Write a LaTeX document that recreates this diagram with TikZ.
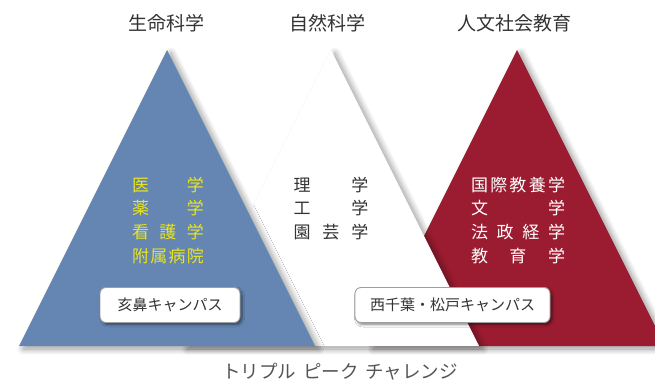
\documentclass[tikz,border=0pt]{standalone}
\usepackage{fontspec}
\setmainfont{Noto Sans CJK JP}
\usetikzlibrary{shadows.blur}
\definecolor{tblue}{HTML}{6586B3}
\definecolor{tred}{HTML}{9B1C30}
\definecolor{tyellow}{HTML}{E8E41E}
\definecolor{tgray}{HTML}{333333}
\definecolor{lgray}{HTML}{555555}
\begin{document}
\begin{tikzpicture}[x=1pt,y=-1pt,
  tri/.style={blur shadow={shadow xshift=4pt, shadow yshift=-3pt, shadow blur radius=6pt, shadow opacity=40, shadow blur steps=12}},
  title/.style={inner sep=0pt, text=tgray, font=\fontsize{19}{19}\selectfont},
  row/.style={inner sep=0pt, font=\fontsize{17}{17}\selectfont},
  campus/.style={draw=gray!75, line width=0.9pt, fill=white, rounded corners=6pt,
    minimum height=35pt, inner sep=0pt, text=tgray, font=\fontsize{15}{15}\selectfont,
    blur shadow={shadow xshift=2pt, shadow yshift=-2pt, shadow blur radius=2.5pt, shadow opacity=50, shadow blur steps=6}},
  bottomtext/.style={inner sep=0pt, text=lgray, font=\fontsize{18.5}{18.5}\selectfont}]
\useasboundingbox (0,0) rectangle (655,383);
\clip (0,0) rectangle (655,383);
% triangles (back to front)
\fill[tred, tri] (517,50) -- (369,346) -- (665,346) -- cycle;
\fill[white, tri] (331,50) -- (183,346) -- (479,346) -- cycle;
\fill[tblue, tri] (167,50) -- (19,346) -- (315,346) -- cycle;
% titles
\node[title] (t1) at (166,23) {生命科学};
\node[title] (t2) at (327,23) {自然科学};
\node[title] (t3) at (514,23) {人文社会教育};
% blue rows
\node[row, text=tyellow] (b1) at (168,185) {\makebox[72pt]{医\hfill 学}};
\node[row, text=tyellow] (b2) at (168,208) {\makebox[72pt]{薬\hfill 学}};
\node[row, text=tyellow] (b3) at (168,232) {\makebox[72pt]{看\hfill 護\hfill 学}};
\node[row, text=tyellow] (b4) at (168,256) {\makebox[72pt]{附\hfill 属\hfill 病\hfill 院}};
% white rows
\node[row, text=tgray] (w1) at (331,185) {\makebox[75pt]{理\hfill 学}};
\node[row, text=tgray] (w2) at (331,208) {\makebox[75pt]{工\hfill 学}};
\node[row, text=tgray] (w3) at (331,232) {\makebox[75pt]{園\hfill 芸\hfill 学}};
% red rows
\node[row, text=white] (r1) at (518,185) {\makebox[94pt]{国\hfill 際\hfill 教\hfill 養\hfill 学}};
\node[row, text=white] (r2) at (518,208) {\makebox[94pt]{文\hfill 学}};
\node[row, text=white] (r3) at (518,232) {\makebox[94pt]{法\hfill 政\hfill 経\hfill 学}};
\node[row, text=white] (r4) at (518,256) {\makebox[94pt]{教\hfill 育\hfill 学}};
% campus boxes
\node[campus, minimum width=140pt] (c1) at (170,305) {亥鼻キャンパス};
\node[campus, minimum width=195pt] (c2) at (452.5,305) {西千葉・松戸キャンパス};
% bottom
\node[bottomtext] (bt) at (340,372) {トリプル\hspace{7pt}ピーク\hspace{7pt}チャレンジ};
\end{tikzpicture}
\end{document}
